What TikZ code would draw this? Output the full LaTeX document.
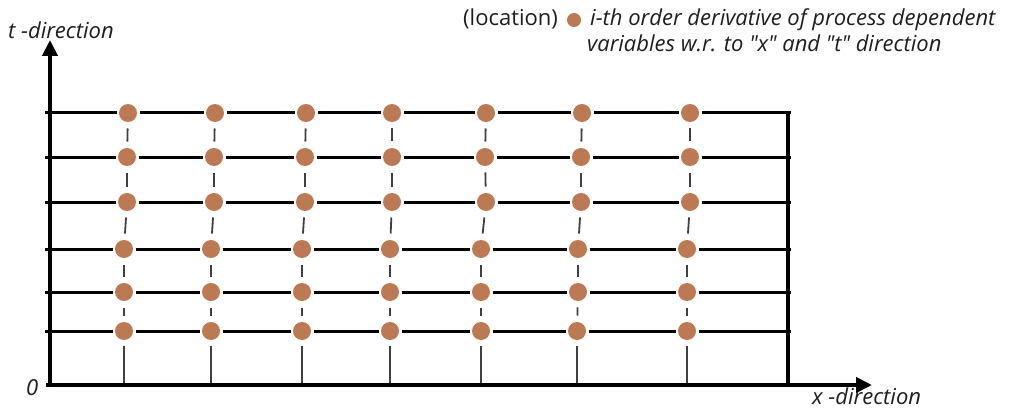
\documentclass[tikz,border=0pt]{standalone}
\usepackage{fontspec}
\setmainfont{Open Sans}
\usetikzlibrary{arrows.meta}
\definecolor{dotc}{HTML}{BC7A54}
\definecolor{ink}{HTML}{1E1E1E}
\begin{document}
\begin{tikzpicture}[x=1pt,y=-1pt,
  dot/.style={circle,fill=dotc,inner sep=0pt,minimum size=18pt,outer sep=2.5pt},
  keydot/.style={circle,fill=dotc,inner sep=0pt,minimum size=14pt},
  gridline/.style={line width=3pt,black},
  axisline/.style={line width=4.5pt,black,-{Triangle[length=16pt,width=15pt]}},
  vdash/.style={line width=1.8pt,draw=ink!85,shorten <=4pt,shorten >=4pt},
  vstem/.style={line width=1.8pt,draw=ink!85,shorten <=3pt},
  lbl/.style={font=\fontsize{22}{26}\selectfont\itshape,text=ink,inner sep=0pt,anchor=base west},
  plain/.style={font=\fontsize{22}{26}\selectfont,text=ink,inner sep=0pt,anchor=base west}]

\fill[white] (0,0) rectangle (1009,409);
\useasboundingbox (0,0) rectangle (1009,409);

% axes
\coordinate (ybot) at (50,387);
\coordinate (ytip) at (50,40);
\coordinate (xbeg) at (46,385);
\coordinate (xtip) at (872,385);
\draw[axisline] (ybot) -- (ytip);
\draw[axisline] (xbeg) -- (xtip);

% right boundary
\coordinate (rtop) at (788,111);
\coordinate (rbot) at (788,385);
\draw[line width=3.5pt] (rtop) -- (rbot);

% collocation points: row index, y, x positions of the seven columns
\foreach \r/\y/\xs in {
  1/113/{128,215,306,392,486,582,690},
  2/157/{127,214,305,392,485,581,690},
  3/202/{127,214,305,392,486,581,690},
  4/249/{124,211,302,390,481,578,687},
  5/292/{124,211,302,390,481,578,687},
  6/331/{124,211,302,390,481,577,687}}{
  \foreach \x [count=\c] in \xs {
    \node[dot] (d\r-\c) at (\x,\y) {};
  }
  \coordinate (L\r) at (45,\y);
  \coordinate (R\r) at (791,\y);
  \draw[gridline] (L\r) -- (d\r-1) -- (d\r-2) -- (d\r-3) -- (d\r-4)
                  -- (d\r-5) -- (d\r-6) -- (d\r-7) -- (R\r);
}

% vertical dashed links and stems down to the x axis
\foreach \c/\x in {1/124,2/211,3/302,4/390,5/481,6/577,7/687}{
  \coordinate (b\c) at (\x,383);
  \draw[vdash] (d1-\c) -- (d2-\c);
  \draw[vdash] (d2-\c) -- (d3-\c);
  \draw[vdash] (d3-\c) -- (d4-\c);
  \draw[vdash] (d4-\c) -- (d5-\c);
  \draw[vdash] (d5-\c) -- (d6-\c);
  \draw[vstem] (d6-\c) -- (b\c);
}

% labels
\node[lbl] (tlab) at (8,39) {t -direction};
\node[lbl] (xlab) at (812,404) {x -direction};
\node[lbl] (zero) at (26,395) {0};

% legend
\node[plain] (loc) at (463,26) {(location)};
\node[keydot] (kdot) at (574,20) {};
\node[lbl] (leg1) at (590,26) {i-th order derivative of process dependent};
\node[lbl] (leg2) at (587,52) {variables w.r. to \textquotedbl x\textquotedbl\ and \textquotedbl t\textquotedbl\ direction};
\end{tikzpicture}
\end{document}
